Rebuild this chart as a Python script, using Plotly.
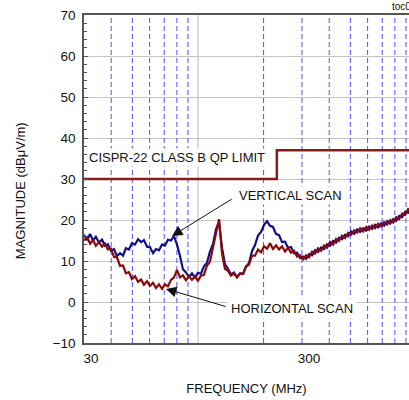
import math
import plotly.graph_objects as go

freq = [30.0, 31.0, 32.0, 33.0, 34.0, 35.1, 36.3, 37.4, 38.6, 39.9,
        41.2, 42.5, 43.9, 45.3, 46.7, 48.2, 49.8, 51.4, 53.1, 54.8,
        56.5, 58.4, 60.2, 62.2, 64.2, 66.2, 68.4, 70.6, 72.8, 75.2,
        77.6, 80.1, 82.7, 85.3, 88.1, 90.9, 93.8, 96.9, 100, 103.2,
        106.5, 110, 113.5, 117.2, 121, 124.9, 128.9, 133, 137.3, 141.7,
        146.3, 151, 155.9, 160.9, 166.1, 171.4, 176.9, 182.6, 188.5, 194.6,
        200.9, 207.3, 214, 220.9, 228, 235.4, 243, 250.8, 258.9, 267.2,
        275.8, 284.7, 293.9, 303.4, 313.2, 323.3, 333.7, 344.4, 355.5, 367,
        378.8, 391, 403.6, 416.6, 430, 443.9, 458.2, 473, 488.2, 504,
        520.2, 537, 554.3, 572.2, 590.6, 609.6, 629.3, 649.5, 670.5, 692.1,
        714.4, 737.5, 761.2, 785.8, 811.1, 837.3, 864.2, 892.1, 920.9, 950.6,
        981.2, 1000]

vertical_scan = [16.4, 15.1, 16.6, 15.0, 15.9, 14.5, 15.2, 13.7, 14.1, 12.5,
                 12.9, 11.2, 11.9, 11.3, 13.1, 12.8, 14.4, 14.0, 15.3, 14.6,
                 15.1, 13.5, 13.4, 11.9, 12.9, 12.6, 14.0, 13.8, 15.2, 15.0,
                 16.1, 14.0, 11.2, 8.0, 7.2, 6.1, 7.0, 6.0, 7.1, 6.9,
                 8.7, 9.6, 12.3, 14.2, 17.8, 19.5, 13.2, 9.2, 8.1, 6.7,
                 7.2, 6.1, 7.0, 6.9, 8.6, 9.5, 12.4, 13.9, 16.2, 17.1,
                 18.8, 19.7, 18.6, 18.3, 16.6, 16.3, 14.6, 14.7, 13.2, 13.4,
                 11.9, 12.0, 10.7, 11.1, 10.5, 11.7, 11.4, 12.6, 12.2, 13.3,
                 12.9, 14.1, 13.7, 14.9, 14.5, 15.7, 15.3, 16.4, 16.0, 17.2,
                 16.6, 17.7, 17.1, 18.0, 17.4, 18.4, 17.8, 18.8, 18.2, 19.2,
                 18.6, 19.7, 19.1, 20.2, 19.8, 21.0, 20.7, 22.0, 21.8, 23.1,
                 22.8, 23.7]

horizontal_scan = [15.0, 15.8, 14.2, 15.1, 13.7, 14.6, 13.5, 14.3, 12.8, 13.0,
                   11.0, 10.9, 8.8, 8.9, 7.0, 7.3, 5.6, 6.3, 4.9, 5.5,
                   4.2, 5.1, 3.9, 4.7, 3.4, 4.3, 3.2, 4.3, 3.8, 5.4,
                   6.0, 7.8, 6.0, 6.5, 5.3, 6.3, 5.4, 6.2, 5.2, 6.4,
                   6.6, 8.9, 9.8, 13.1, 16.2, 20.2, 11.8, 8.1, 7.6, 6.4,
                   6.9, 6.0, 6.9, 6.8, 8.7, 9.1, 11.3, 11.3, 12.8, 12.1,
                   13.6, 13.0, 14.3, 12.9, 13.8, 12.8, 13.6, 12.3, 13.2, 12.0,
                   12.5, 11.1, 11.4, 10.4, 11.4, 10.9, 12.3, 11.8, 13.1, 12.5,
                   13.8, 13.2, 14.7, 14.0, 15.4, 14.9, 16.2, 15.6, 16.9, 16.4,
                   17.5, 16.9, 18.0, 17.2, 18.3, 17.6, 18.7, 18.0, 19.1, 18.4,
                   19.5, 18.9, 20.0, 19.4, 20.7, 20.2, 21.6, 21.2, 22.7, 22.3,
                   23.6, 23.3]

limit_freq = [30, 230, 230, 1000]
limit_val = [30, 30, 37, 37]

dashed_grid = [40, 50, 60, 70, 80, 90, 200, 300, 400, 500, 600, 700, 800, 900]
solid_grid = [100, 1000]

x_ticks = [30, 300]
y_ticks = [-10, 0, 10, 20, 30, 40, 50, 60, 70]

FONT = "Liberation Sans, Arial, sans-serif"
Y0, Y1 = -10, 70

def vlines(xs):
    gx, gy = [], []
    for v in xs:
        gx += [v, v, None]
        gy += [Y0, Y1, None]
    return gx, gy

fig = go.Figure()
gx, gy = vlines(dashed_grid)
fig.add_trace(go.Scatter(x=gx, y=gy, mode="lines", hoverinfo="skip",
                         line=dict(color="#5050ff", width=1, dash="5px,3px")))
gx, gy = vlines(solid_grid)
fig.add_trace(go.Scatter(x=gx, y=gy, mode="lines", hoverinfo="skip",
                         line=dict(color="#c4c4c4", width=1.2)))
fig.add_trace(go.Scatter(x=freq, y=vertical_scan, mode="lines",
                         line=dict(color="#10108a", width=2.2)))
fig.add_trace(go.Scatter(x=freq, y=horizontal_scan, mode="lines",
                         line=dict(color="#8b0a0a", width=2.2)))
fig.add_trace(go.Scatter(x=limit_freq, y=limit_val, mode="lines",
                         line=dict(color="#8b1a1a", width=2.5)))

L = math.log10
fig.add_annotation(x=L(31), y=35.2, xref="x", yref="y", text="CISPR-22 CLASS B QP LIMIT",
                   showarrow=False, xanchor="left", yanchor="middle", bgcolor="white",
                   borderpad=1, font=dict(family=FONT, size=13, color="#111"))
fig.add_annotation(x=L(151), y=25.9, xref="x", yref="y", text="VERTICAL SCAN",
                   showarrow=False, xanchor="left", yanchor="middle", bgcolor="white",
                   borderpad=1, font=dict(family=FONT, size=13, color="#111"))
fig.add_annotation(x=L(137.4), y=-1.7, xref="x", yref="y", text="HORIZONTAL SCAN",
                   showarrow=False, xanchor="left", yanchor="middle", bgcolor="white",
                   borderpad=2, font=dict(family=FONT, size=13, color="#111"))
fig.add_annotation(x=L(76), y=16.1, ax=L(145), ay=25.3, xref="x", yref="y",
                   axref="x", ayref="y", text="", showarrow=True, arrowhead=2,
                   arrowsize=2.1, arrowwidth=1, arrowcolor="#111")
fig.add_annotation(x=L(71.3), y=3.2, ax=L(136), ay=-1.2, xref="x", yref="y",
                   axref="x", ayref="y", text="", showarrow=True, arrowhead=2,
                   arrowsize=2.1, arrowwidth=1, arrowcolor="#111")
fig.add_annotation(x=0.94, y=1, xref="paper", yref="paper", text="toc0",
                   showarrow=False, xanchor="left", yanchor="bottom", yshift=1,
                   font=dict(family=FONT, size=10, color="#111"))
fig.add_annotation(x=-0.197, y=0.466, xref="paper", yref="paper",
                   text="MAGNITUDE (dBμV/m)", textangle=-90, showarrow=False,
                   xanchor="center", yanchor="middle",
                   font=dict(family=FONT, size=13, color="#111"))

fig.update_layout(
    width=409, height=400,
    margin=dict(l=84, r=0, t=15, b=57),
    paper_bgcolor="white", plot_bgcolor="white",
    showlegend=False,
    font=dict(family=FONT, size=13, color="#111"),
    xaxis=dict(type="log", range=[L(30), L(929)], showgrid=False, zeroline=False,
               showline=True, linecolor="#555", linewidth=1.5, mirror=True,
               tickvals=x_ticks, ticktext=[str(v) for v in x_ticks], ticks="",
               tickfont=dict(family=FONT, size=13.5, color="#111"),
               ticklabelshift=7, ticklabelstandoff=2,
               title=dict(text="FREQUENCY (MHz)", standoff=19,
                          font=dict(family=FONT, size=13, color="#111"))),
    yaxis=dict(range=[Y0, Y1], tickvals=y_ticks, showgrid=True, gridcolor="#c4c4c4",
               gridwidth=1.2, zeroline=False, showline=True, linecolor="#555",
               linewidth=1.5, ticks="inside", ticklen=4, tickcolor="#555",
               minor=dict(dtick=2, ticks="inside", ticklen=3, tickcolor="#555", showgrid=False),
               tickfont=dict(family=FONT, size=13.5, color="#111"),
               ticklabelstandoff=4),
)

fig.write_html("out.html", config={"displayModeBar": False},
               post_script="document.body.style.margin='0';")
